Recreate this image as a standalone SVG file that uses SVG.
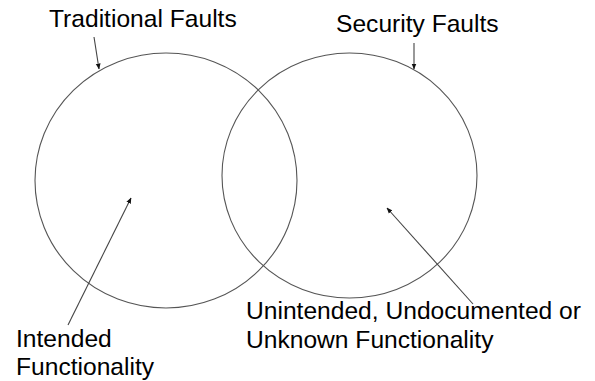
<svg xmlns="http://www.w3.org/2000/svg" width="595" height="381" viewBox="0 0 595 381">
<defs>
<style>
.c{fill:none;stroke:#555;stroke-width:1.1}
.a{fill:none;stroke:#444;stroke-width:1.1;marker-end:url(#ah)}
text{font-family:"Liberation Sans",Arial,sans-serif;font-size:24.6px;fill:#000}
</style>
<marker id="ah" viewBox="0 0 10 10" refX="9" refY="5" markerWidth="6" markerHeight="6" orient="auto" markerUnits="userSpaceOnUse">
<path d="M0,1 L10,5 L0,9 z" fill="#111"/>
</marker>
</defs>
<rect width="595" height="381" fill="#fff"/>
<g id="traditional">
<ellipse class="c" cx="166" cy="180.5" rx="131" ry="127.5"/>
<text x="49" y="27">Traditional Faults</text>
</g>
<g id="security">
<ellipse class="c" cx="349.5" cy="175.5" rx="127.5" ry="122.5"/>
<text x="336" y="32">Security Faults</text>
</g>
<g id="intended">
<text x="16" y="347">Intended</text>
<text x="16" y="375">Functionality</text>
</g>
<g id="unintended">
<text x="246" y="319">Unintended, Undocumented or</text>
<text x="246" y="348">Unknown Functionality</text>
</g>
<g id="connectors">
<line class="a" x1="94" y1="37" x2="99" y2="69"/>
<line class="a" x1="414" y1="43" x2="414" y2="69"/>
<line class="a" x1="68" y1="325" x2="131" y2="198"/>
<line class="a" x1="473" y1="304" x2="387" y2="208"/>
</g>
</svg>
